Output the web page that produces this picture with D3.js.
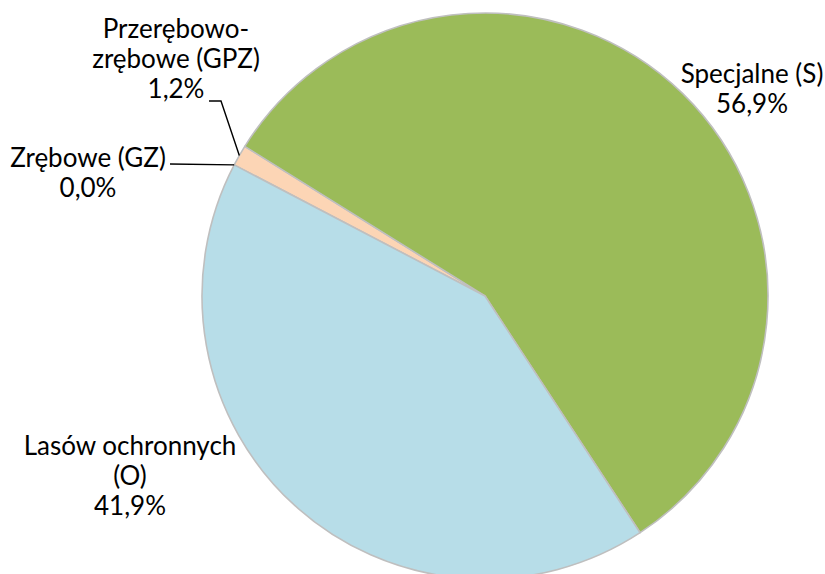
<!DOCTYPE html>
<html>
<head>
<meta charset="utf-8">
<script src="https://cdn.jsdelivr.net/npm/d3@7"></script>
<style>
  html, body { margin: 0; padding: 0; background: #fff; }
  svg { display: block; }
  text { font-family: Lato, "Open Sans", sans-serif; fill: #000; }
</style>
</head>
<body>
<svg id="chart" width="825" height="574"></svg>
<script>
// Forest categories (share of area, %)
const categories = ["Zrębowe (GZ)", "Przerębowo-zrębowe (GPZ)", "Specjalne (S)", "Lasów ochronnych (O)"];
const values = [0.0, 1.2, 56.9, 41.9];
const valueLabels = ["0,0%", "1,2%", "56,9%", "41,9%"];
const labelLines = [
  ["Zrębowe (GZ)"],
  ["Przerębowo-", "zrębowe (GPZ)"],
  ["Specjalne (S)"],
  ["Lasów ochronnych", "(O)"]
];
const colors = ["#FCD5B5", "#FCD5B5", "#9BBB59", "#B7DDE8"];

// Layout
const W = 825, H = 574;
const cx = 485, cy = 296, R = 283;
const startDeg = 297.6;
const fontSize = 26;
const lineH = 30;
// label anchor: centre x and first baseline y; optional leader elbow
const labelPos = [
  { x: 88, y: 167, leader: { x0: 170, y0: 164, elbowX: 170 } },
  { x: 176, y: 38, leader: { x0: 209, y0: 101, elbowX: 221 } },
  { x: 752, y: 83 },
  { x: 130, y: 455 }
];

const svg = d3.select("#chart");
const g = svg.append("g").attr("transform", `translate(${cx},${cy})`);

const rad = d => d * Math.PI / 180;
const pie = d3.pie().sort(null).value(d => d)
  .startAngle(rad(startDeg)).endAngle(rad(startDeg) + 2 * Math.PI);
const arcs = pie(values);
const arc = d3.arc().innerRadius(0).outerRadius(R);
const edge = d3.arc().innerRadius(R).outerRadius(R);

g.selectAll("path.slice")
  .data(arcs)
  .join("path")
  .attr("class", "slice")
  .attr("d", arc)
  .attr("fill", (d, i) => colors[i])
  .attr("stroke", "#BFBFBF")
  .attr("stroke-width", 1.6)
  .attr("stroke-linejoin", "round");

// leader lines from label to slice edge
arcs.forEach((d, i) => {
  const lp = labelPos[i];
  if (!lp.leader) return;
  const [ex, ey] = edge.centroid(d);
  const pts = [
    [lp.leader.x0, lp.leader.y0],
    [lp.leader.elbowX, lp.leader.y0],
    [cx + ex, cy + ey]
  ];
  svg.append("path")
    .attr("d", d3.line()(pts))
    .attr("fill", "none")
    .attr("stroke", "#000")
    .attr("stroke-width", 1.4);
});

// data labels
arcs.forEach((d, i) => {
  const lp = labelPos[i];
  const lines = labelLines[i].concat([valueLabels[i]]);
  const t = svg.append("text")
    .attr("text-anchor", "middle")
    .attr("font-size", fontSize);
  lines.forEach((s, k) => {
    t.append("tspan").attr("x", lp.x).attr("y", lp.y + k * lineH).text(s);
  });
});
</script>
</body>
</html>
